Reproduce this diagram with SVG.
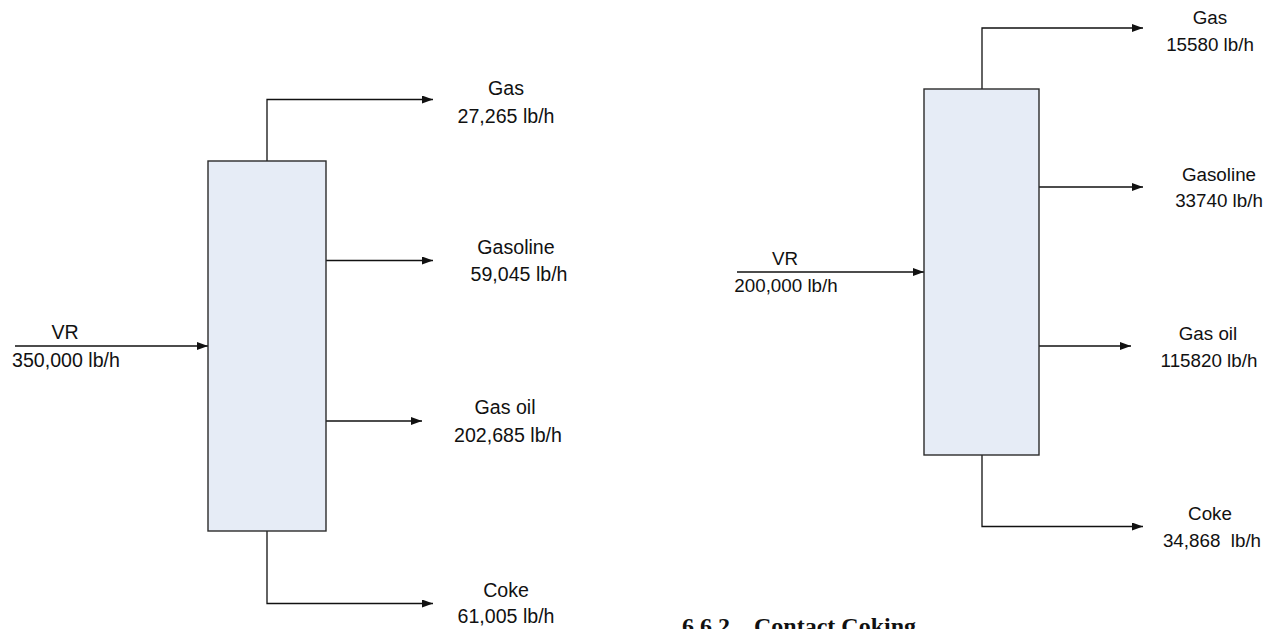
<svg xmlns="http://www.w3.org/2000/svg" width="1278" height="629" viewBox="0 0 1278 629">
<style>
.box{fill:#e6ecf6;stroke:#2b2b2b;stroke-width:1.4}
.ln{fill:none;stroke:#111;stroke-width:1.3}
.t{font-family:"Liberation Sans",Arial,sans-serif;font-size:19.6px;fill:#111;text-anchor:middle}
.r{font-size:18.8px}
.h{font-family:"Liberation Serif","Times New Roman",serif;font-weight:bold;font-size:24px;fill:#111}
</style>
<defs>
<marker id="ah" viewBox="0 0 11 8" refX="11" refY="4" markerWidth="11" markerHeight="8" markerUnits="userSpaceOnUse" orient="auto">
<path d="M0,0 L11,4 L0,8 Z" fill="#111"/>
</marker>
</defs>
<rect width="1278" height="629" fill="#fff"/>
<g id="connectors">
<path class="ln" d="M267,161 V99.5 H433" marker-end="url(#ah)"/>
<path class="ln" d="M326,260.5 H433" marker-end="url(#ah)"/>
<path class="ln" d="M15,346 H208" marker-end="url(#ah)"/>
<path class="ln" d="M326,421 H422" marker-end="url(#ah)"/>
<path class="ln" d="M267,531 V603.5 H433" marker-end="url(#ah)"/>
<path class="ln" d="M982,89 V28 H1143" marker-end="url(#ah)"/>
<path class="ln" d="M1039,187 H1143" marker-end="url(#ah)"/>
<path class="ln" d="M737,272 H924" marker-end="url(#ah)"/>
<path class="ln" d="M1039,346 H1131" marker-end="url(#ah)"/>
<path class="ln" d="M982,455 V526.5 H1143" marker-end="url(#ah)"/>
</g>
<g id="coker1"><rect class="box" x="208" y="161" width="118" height="370"/></g>
<g id="coker2"><rect class="box" x="924" y="89" width="115" height="366"/></g>
<g id="labels1">
<text class="t" x="65" y="339">VR</text>
<text class="t" x="66" y="366.5">350,000 lb/h</text>
<text class="t" x="506" y="95">Gas</text>
<text class="t" x="506" y="122.5">27,265 lb/h</text>
<text class="t" x="516" y="254">Gasoline</text>
<text class="t" x="519" y="280.5">59,045 lb/h</text>
<text class="t" x="505" y="414">Gas oil</text>
<text class="t" x="508" y="441.5">202,685 lb/h</text>
<text class="t" x="506" y="597">Coke</text>
<text class="t" x="506" y="623">61,005 lb/h</text>
</g>
<g id="labels2">
<text class="t r" x="785" y="265">VR</text>
<text class="t r" x="786" y="292">200,000 lb/h</text>
<text class="t r" x="1210" y="24">Gas</text>
<text class="t r" x="1210" y="50.5">15580 lb/h</text>
<text class="t r" x="1219" y="181">Gasoline</text>
<text class="t r" x="1219" y="206.5">33740 lb/h</text>
<text class="t r" x="1208" y="340">Gas oil</text>
<text class="t r" x="1209" y="366.5">115820 lb/h</text>
<text class="t r" x="1210" y="520">Coke</text>
<text class="t r" x="1212" y="546.5" xml:space="preserve">34,868  lb/h</text>
</g>
<text class="h" x="682" y="634" xml:space="preserve">6.6.2    Contact Coking</text>
</svg>
